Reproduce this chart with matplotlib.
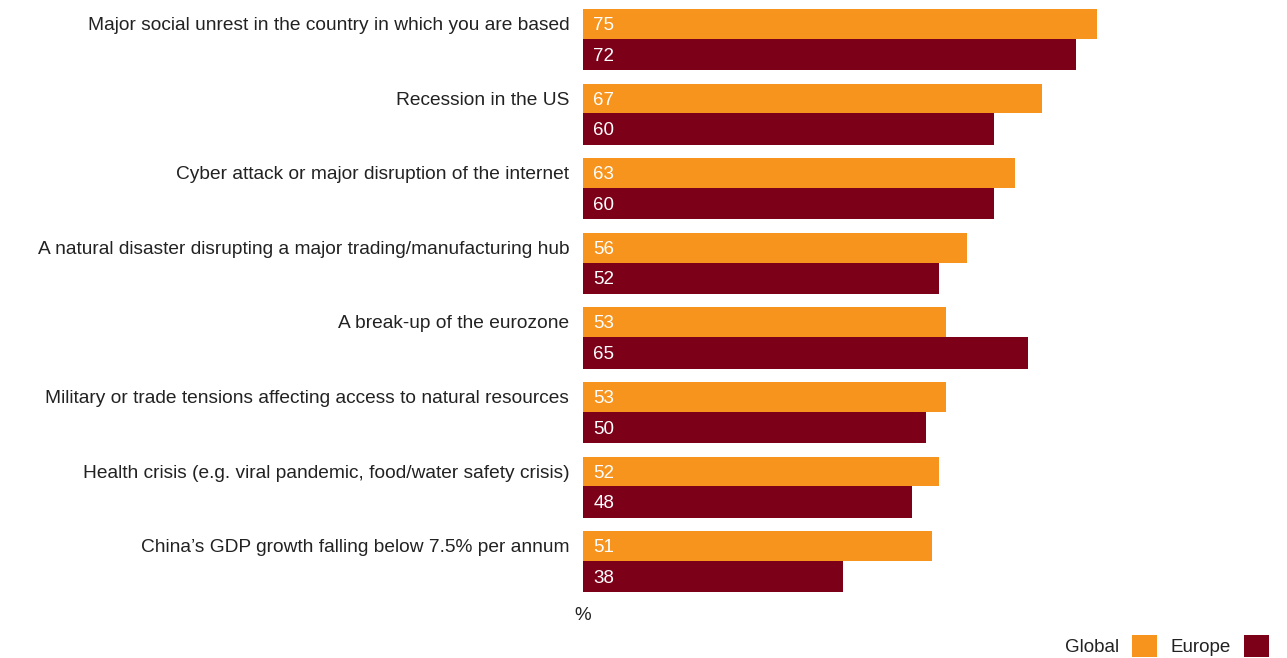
import matplotlib.pyplot as plt
import numpy as np

categories = ['Major social unrest in the country in which you are based',
              'Recession in the US',
              'Cyber attack or major disruption of the internet',
              'A natural disaster disrupting a major trading/manufacturing hub',
              'A break-up of the eurozone',
              'Military or trade tensions affecting access to natural resources',
              'Health crisis (e.g. viral pandemic, food/water safety crisis)',
              'China\u2019s GDP growth falling below 7.5% per annum']
global_vals = [75, 67, 63, 56, 53, 53, 52, 51]
europe_vals = [72, 60, 60, 52, 65, 50, 48, 38]

orange = '#F7941E'
red = '#7D0019'

plt.rcParams['font.family'] = ['Liberation Sans', 'DejaVu Sans']

fig = plt.figure(figsize=(12.87, 6.58), dpi=100)
ax = fig.add_axes([583 / 1287, 58 / 658, 685 / 1287, 600 / 658])

y = np.arange(len(categories))
h = 0.40
ax.barh(y + h / 2, global_vals, height=h, color=orange, label='Global')
ax.barh(y + h + 0.21, europe_vals, height=0.42, color=red, label='Europe')

# подписи значений внутри столбцов
for i, (g, e) in enumerate(zip(global_vals, europe_vals)):
    ax.text(1.5, i + h / 2 + 0.02, str(g), color='white', fontsize=13.5, va='center', ha='left')
    ax.text(1.5, i + h + 0.23, str(e), color='white', fontsize=13.5, va='center', ha='left')
    ax.text(-2.0, i + h / 2 + 0.02, categories[i], color='#222222', fontsize=13.8, va='center', ha='right')

ax.set_xlim(0, 100)
ax.set_ylim(7.922, -0.121)
ax.axis('off')

fig.text(583 / 1287, 1 - 615 / 658, '%', fontsize=13.5, ha='center', va='center', color='#222222')

leg = fig.legend(loc='center right', bbox_to_anchor=(1269 / 1287, 1 - 646 / 658), ncol=2,
                 frameon=False, markerfirst=False, fontsize=13.5, handlelength=1.35,
                 handleheight=1.35, columnspacing=0.7, handletextpad=0.7, borderpad=0, borderaxespad=0)
for t in leg.get_texts():
    t.set_color('#222222')

fig.savefig('out.png', dpi=100)
